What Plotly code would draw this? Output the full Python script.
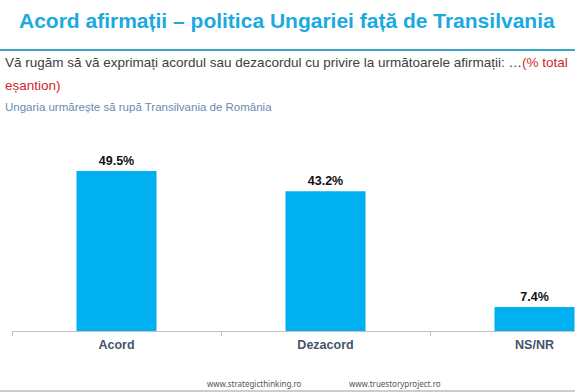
import plotly.graph_objects as go

categories = ["Acord", "Dezacord", "NS/NR"]
values = [49.5, 43.2, 7.4]

title_text = "Acord afirmații – politica Ungariei față de Transilvania"
question_text = "Vă rugăm să vă exprimați acordul sau dezacordul cu privire la următoarele afirmații: …"
question_red1 = "(% total"
question_red2 = "eșantion)"
statement_text = "Ungaria urmărește să rupă Transilvania de România"
footer_texts = ["www.strategicthinking.ro", "www.truestoryproject.ro"]

W, H = 575, 392
L, R, T, B = 12, 0, 120, 61
PW, PH = W - L - R, H - T - B
PX_PER_UNIT = 160 / 49.5
BAND = 209


def px(x):
    return (x - L) / PW


def py(y):
    return (H - B - y) / PH


fig = go.Figure()
fig.add_trace(go.Bar(
    x=categories,
    y=values,
    text=[f"<b>{v:.1f}%</b>" for v in values],
    textposition="outside",
    textfont=dict(family="Liberation Sans", size=12.5, color="#111111"),
    marker=dict(color="#00B0F0", line=dict(width=0)),
    cliponaxis=False,
    hoverinfo="skip",
))

annotations = [
    dict(text=f"<b>{title_text}</b>", x=px(17), y=py(21), xanchor="left", yanchor="middle",
         font=dict(family="Liberation Sans", size=21, color="#1BA9DF")),
    dict(text=f"{question_text}<span style='color:#D0262C'>{question_red1}</span>",
         x=px(3), y=py(62), xanchor="left", yanchor="middle",
         font=dict(family="Liberation Sans", size=13.5, color="#404040")),
    dict(text=question_red2, x=px(3), y=py(85), xanchor="left", yanchor="middle",
         font=dict(family="Liberation Sans", size=13.5, color="#D0262C")),
    dict(text=statement_text, x=px(3), y=py(107), xanchor="left", yanchor="middle",
         font=dict(family="Liberation Sans", size=11.5, color="#6A8BB0")),
    dict(text=footer_texts[0], x=px(254), y=py(383), xanchor="center", yanchor="middle",
         font=dict(family="Noto Sans", size=8, color="#555555")),
    dict(text=footer_texts[1], x=px(395), y=py(383), xanchor="center", yanchor="middle",
         font=dict(family="Noto Sans", size=8, color="#555555")),
]
for a in annotations:
    a.update(xref="paper", yref="paper", showarrow=False)

shapes = [
    dict(type="line", xref="paper", yref="paper", x0=px(0), x1=px(W), y0=py(50), y1=py(50),
         line=dict(color="#3BA7CB", width=2)),
    dict(type="line", xref="paper", yref="paper", x0=px(0), x1=px(W), y0=py(391), y1=py(391),
         line=dict(color="#9A9A9A", width=1)),
]

fig.update_layout(
    width=W, height=H,
    margin=dict(l=L, r=R, t=T, b=B, pad=0),
    paper_bgcolor="white", plot_bgcolor="white",
    showlegend=False,
    bargap=1 - 80 / BAND,
    annotations=annotations,
    shapes=shapes,
    xaxis=dict(
        type="category",
        range=[-0.5, -0.5 + PW / BAND],
        showline=True, linecolor="#C0C0C0", linewidth=1,
        ticks="outside", tickson="boundaries", ticklen=4, tickcolor="#C0C0C0",
        ticklabelstandoff=2,
        tickfont=dict(family="Liberation Sans", size=12.5, color="#44546A", weight="bold"),
        showgrid=False, zeroline=False, fixedrange=True,
    ),
    yaxis=dict(
        range=[0, PH / PX_PER_UNIT],
        visible=False, showgrid=False, zeroline=False, fixedrange=True,
    ),
)

fig.write_html("out.html", config=dict(displayModeBar=False),
               post_script="document.body.style.margin='0';document.body.style.overflow='hidden';")
